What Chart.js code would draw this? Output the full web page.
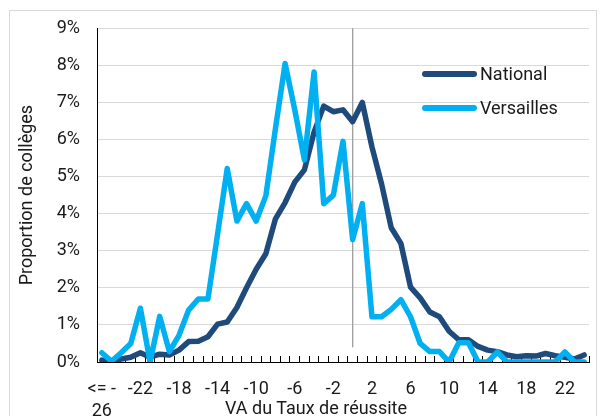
<!DOCTYPE html>
<html>
<head>
<meta charset="utf-8">
<script src="https://cdn.jsdelivr.net/npm/chart.js@4"></script>
<style>
  html, body { margin: 0; padding: 0; background: #fff; }
  #wrap { position: relative; width: 607px; height: 416px; overflow: hidden; font-family: Roboto, sans-serif; color: #1a1a1a; }
  #frame { position: absolute; left: 9px; top: 10px; width: 588px; height: 500px; border: 1px solid #d9d9d9; box-sizing: border-box; }
  canvas { position: absolute; left: 0; top: 0; }
  .lg-line { position: absolute; left: 422px; width: 55px; height: 6px; border-radius: 3px; }
  .lg-text { position: absolute; left: 480px; font-size: 18px; line-height: 22px; white-space: nowrap; }
  #xtitle { position: absolute; left: 316px; top: 397px; transform: translateX(-50%); font-size: 18px; line-height: 22px; white-space: nowrap; }
</style>
</head>
<body>
<div id="wrap">
  <div id="frame"></div>
  <canvas id="c" width="607" height="416"></canvas>
  <div class="lg-line" style="top:71px;background:#1F4A7C"></div>
  <div class="lg-text" style="top:63px">National</div>
  <div class="lg-line" style="top:105px;background:#00B0F0"></div>
  <div class="lg-text" style="top:97px">Versailles</div>
  <div id="xtitle">VA du Taux de réussite</div>
</div>
<script>
const categories = ['<= -26','-25','-24','-23','-22','-21','-20','-19','-18','-17','-16','-15','-14','-13','-12','-11','-10','-9','-8','-7','-6','-5','-4','-3','-2','-1','0','1','2','3','4','5','6','7','8','9','10','11','12','13','14','15','16','17','18','19','20','21','22','23','24'];
const tickLabels = ['<= -26','-22','-18','-14','-10','-6','-2','2','6','10','14','18','22'];
const national = [0.05,0.0,0.08,0.13,0.25,0.13,0.21,0.19,0.32,0.55,0.56,0.68,1.02,1.08,1.47,2.0,2.5,2.92,3.86,4.3,4.85,5.18,6.2,6.9,6.75,6.8,6.48,7.0,5.8,4.8,3.62,3.2,2.02,1.73,1.35,1.22,0.83,0.6,0.6,0.42,0.32,0.28,0.19,0.14,0.17,0.16,0.23,0.17,0.13,0.08,0.19];
const versailles = [0.25,0.02,0.25,0.5,1.45,0.0,1.23,0.28,0.72,1.4,1.7,1.7,3.45,5.22,3.8,4.27,3.8,4.48,6.3,8.05,6.8,5.45,7.82,4.27,4.5,5.95,3.3,4.27,1.22,1.22,1.42,1.68,1.22,0.5,0.28,0.28,0.0,0.52,0.52,0.0,0.0,0.27,0,0,0,0,0,0,0.27,0,0];
const markerX = '0';
const markerY = [9, 0.4];
const yTicks = [0,1,2,3,4,5,6,7,8,9];

const FONT = {family: 'Roboto', size: 18, lineHeight: 1.25};
const TXT = '#1a1a1a';

new Chart(document.getElementById('c'), {
  type: 'line',
  data: {
    labels: categories,
    datasets: [
      {label: 'National', data: national, borderColor: '#1F4A7C', borderWidth: 5.5, pointRadius: 0, tension: 0, borderJoinStyle: 'round', borderCapStyle: 'round', order: 2},
      {label: 'Versailles', data: versailles, borderColor: '#00B0F0', borderWidth: 5.5, pointRadius: 0, tension: 0, borderJoinStyle: 'round', borderCapStyle: 'round', order: 1},
      {label: 'marker', data: markerY.map(v => ({x: markerX, y: v})), borderColor: '#a0a0a0', borderWidth: 1, pointRadius: 0, order: 3}
    ]
  },
  options: {
    responsive: false,
    animation: false,
    layout: {padding: {top: 27, right: 18, left: 0, bottom: 0}},
    plugins: {legend: {display: false}, tooltip: {enabled: false}},
    scales: {
      x: {
        type: 'category',
        offset: true,
        afterFit: s => { s.height = 54; },
        grid: {display: true, drawOnChartArea: false, drawTicks: true, tickLength: -6, offset: true, color: '#000', lineWidth: 1},
        border: {display: true, color: '#000', width: 1},
        ticks: {
          autoSkip: false, maxRotation: 0, minRotation: 0, padding: 21.75, color: TXT, font: FONT,
          callback: function(v) {
            const l = this.getLabelForValue(v);
            if (!tickLabels.includes(l)) return '';
            if (l === '<= -26') return ['<= -', '26'];
            return l;
          }
        }
      },
      y: {
        min: 0, max: 9,
        afterFit: s => { s.width = 97; },
        afterBuildTicks: s => { s.ticks = yTicks.map(v => ({value: v})); },
        grid: {color: '#d9d9d9', lineWidth: 1, drawTicks: false},
        border: {display: true, color: '#000', width: 1},
        ticks: {padding: 17, color: TXT, font: FONT, callback: v => v + '%'},
        title: {display: true, text: 'Proportion de collèges', color: TXT, font: FONT, padding: {top: 16, bottom: 0}}
      }
    }
  }
});
</script>
</body>
</html>
